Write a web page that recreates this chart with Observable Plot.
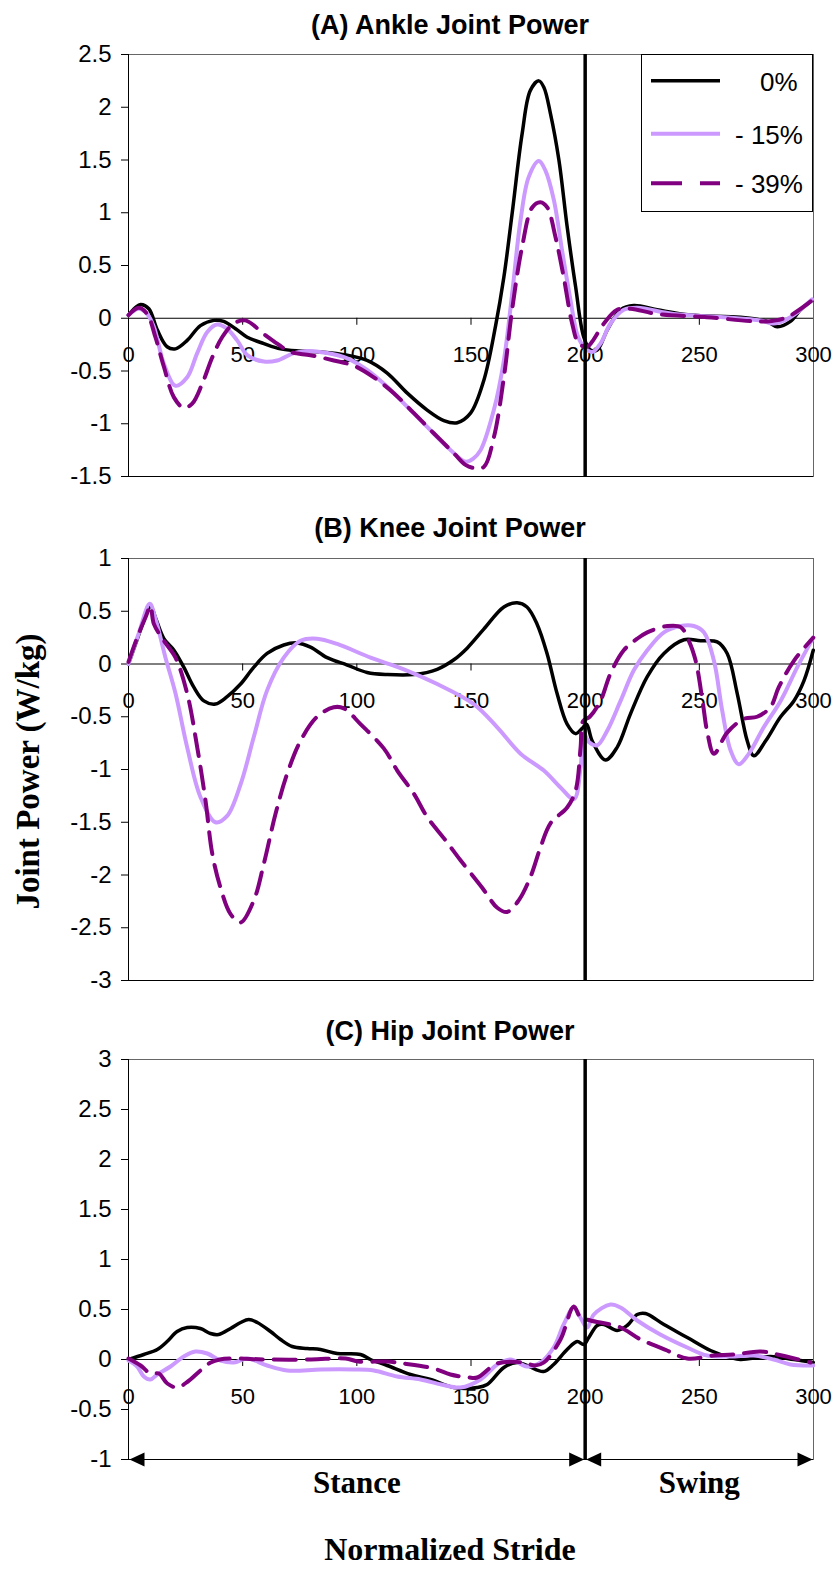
<!DOCTYPE html>
<html><head><meta charset="utf-8">
<script src="https://cdn.jsdelivr.net/npm/d3@7"></script>
<script src="https://cdn.jsdelivr.net/npm/@observablehq/plot@0.6"></script>
<style>html,body{margin:0;padding:0;background:#fff;} #chart svg{display:block;}</style>
</head><body><div id="chart"></div>
<script>
// ---------------- DATA ----------------
const seriesNames = ["0%", "- 15%", "- 39%"];
const xTicks = [0, 50, 100, 150, 200, 250, 300];
const stanceSwingBoundary = [200];
const phaseNames = ["Stance", "Swing"];
const phaseMid = [100, 250];
const leftHeads = [0, 200];
const rightHeads = [200, 300];

const ankleTicks = [-1.5, -1, -0.5, 0, 0.5, 1, 1.5, 2, 2.5];
const kneeTicks = [-3, -2.5, -2, -1.5, -1, -0.5, 0, 0.5, 1];
const hipTicks = [-1, -0.5, 0, 0.5, 1, 1.5, 2, 2.5, 3];

const ankle0 = [[0,0.03],[3,0.10],[5.3,0.13],[8.9,0.09],[12.6,-0.11],[16.9,-0.27],[20.6,-0.29],[25.7,-0.21],[31.5,-0.07],[37.4,-0.02],[41.7,-0.03],[46.9,-0.10],[52,-0.18],[59.3,-0.24],[66.6,-0.29],[75.3,-0.31],[84.1,-0.32],[95.8,-0.35],[104.5,-0.40],[113.3,-0.52],[122.1,-0.71],[130.8,-0.87],[138.1,-0.97],[144,-0.99],[149.8,-0.90],[155.6,-0.59],[160.7,-0.08],[164.4,0.39],[168,0.99],[172.4,1.75],[176,2.16],[179.7,2.25],[181.9,2.19],[184.8,1.94],[188.5,1.50],[192.1,0.87],[195.8,0.30],[199.4,-0.18],[202.3,-0.30],[205.3,-0.30],[209.7,-0.11],[215.5,0.08],[221.3,0.12],[231.5,0.08],[246.1,0.03],[268,0.01],[279.7,-0.03],[284.1,-0.08],[289.9,-0.03],[294.3,0.08],[299.4,0.17]];
const ankle15 = [[0,0.03],[4.5,0.09],[8.2,0.04],[11.1,-0.08],[15.5,-0.43],[20.6,-0.64],[25.7,-0.56],[30.1,-0.33],[34.5,-0.13],[38.8,-0.06],[43.2,-0.10],[47.6,-0.21],[52,-0.35],[59.3,-0.41],[65.1,-0.40],[72.4,-0.33],[78.3,-0.31],[87,-0.33],[95.8,-0.38],[104.5,-0.49],[113.3,-0.65],[122.1,-0.84],[130.8,-1.03],[139.6,-1.22],[147.6,-1.36],[151,-1.33],[154.2,-1.25],[160,-0.87],[164.4,-0.40],[168,0.23],[171.7,0.93],[175.3,1.34],[179.7,1.49],[182.6,1.40],[186.3,1.12],[189.9,0.64],[193.6,0.17],[196.5,-0.15],[199.4,-0.27],[203.1,-0.32],[206.7,-0.24],[211.1,-0.05],[216.9,0.08],[222.8,0.10],[238.8,0.04],[260.7,0.01],[276.8,-0.02],[282.6,-0.05],[289.9,0.01],[299.4,0.18]];
const ankle39 = [[0,0.03],[4.5,0.10],[8.2,0.04],[11.8,-0.18],[15.5,-0.46],[19.9,-0.75],[24.2,-0.85],[27.9,-0.81],[32.3,-0.62],[36.7,-0.37],[41,-0.18],[46.1,-0.05],[51.2,-0.02],[59.3,-0.15],[65.1,-0.24],[71,-0.32],[79.7,-0.35],[89.9,-0.40],[98.7,-0.45],[107.4,-0.56],[116.2,-0.71],[125,-0.90],[133.7,-1.09],[142.5,-1.28],[147.6,-1.39],[151.5,-1.42],[155.6,-1.41],[160,-1.13],[164.4,-0.56],[168,0.08],[172.4,0.68],[176.8,1.05],[180.4,1.10],[183.4,1.05],[187,0.77],[190.6,0.39],[194.3,-0.05],[197.2,-0.24],[200.9,-0.27],[203.1,-0.22],[208.2,-0.05],[214,0.08],[219.9,0.09],[231.5,0.04],[253.4,0.01],[279.7,-0.03],[288.4,0.01],[299.4,0.17]];

const knee0 = [[0,0],[3.1,0.19],[6.7,0.41],[9.6,0.55],[11.8,0.44],[15.5,0.24],[19.9,0.13],[24.2,-0.03],[28.6,-0.22],[33,-0.35],[38.1,-0.38],[43.2,-0.31],[49.1,-0.19],[54.9,-0.03],[60.7,0.10],[68,0.18],[73.9,0.20],[79.7,0.16],[87,0.06],[95.8,-0.01],[104.5,-0.08],[113.3,-0.10],[125,-0.10],[135.2,-0.05],[142.5,0.04],[148.3,0.15],[155.6,0.33],[164.4,0.54],[170.2,0.58],[174.5,0.54],[178.9,0.38],[183.3,0.10],[187.7,-0.28],[192.1,-0.57],[195.8,-0.66],[198.7,-0.61],[200.6,-0.57],[203.1,-0.73],[208.9,-0.91],[214,-0.79],[219.9,-0.47],[227.2,-0.12],[234.5,0.10],[243.3,0.23],[250.5,0.22],[257.8,0.21],[262.2,0.10],[266.6,-0.28],[271,-0.73],[273.9,-0.87],[279,-0.73],[285.6,-0.50],[291.4,-0.35],[295.8,-0.16],[299.9,0.13]];
const knee15 = [[0,0],[4.5,0.29],[9.3,0.57],[11.8,0.43],[16.2,0.06],[20.6,-0.28],[25.7,-0.79],[31.5,-1.26],[38.1,-1.50],[43.2,-1.44],[49.1,-1.14],[54.9,-0.69],[60.7,-0.25],[68,0.06],[75.3,0.22],[82.6,0.24],[91.4,0.19],[106,0.06],[120.6,-0.05],[135.2,-0.19],[151.2,-0.38],[161.5,-0.60],[171.7,-0.85],[181.9,-1.01],[189.2,-1.17],[195.1,-1.28],[198,-0.98],[199.4,-0.66],[201.6,-0.74],[205.3,-0.77],[209.7,-0.63],[215.5,-0.35],[221.3,-0.06],[227.2,0.13],[234.5,0.30],[241.8,0.36],[247.6,0.36],[252,0.30],[256.4,0.03],[260,-0.44],[263.7,-0.82],[267.3,-0.95],[271.7,-0.85],[278.2,-0.60],[285.6,-0.35],[292.9,-0.03],[299.9,0.25]];
const knee39 = [[0,0.02],[3.8,0.25],[7.6,0.45],[9.6,0.55],[11.1,0.38],[15.5,0.22],[20.6,0.06],[25.7,-0.28],[30.1,-0.79],[33.7,-1.29],[36.7,-1.80],[40.3,-2.12],[44.7,-2.37],[49.1,-2.45],[54.9,-2.24],[59.3,-1.89],[64.4,-1.42],[69.5,-1.04],[75.3,-0.73],[82.6,-0.50],[89.9,-0.41],[94.3,-0.42],[101.6,-0.57],[111.8,-0.80],[117.7,-1.01],[125,-1.23],[130.8,-1.45],[138.8,-1.67],[145.4,-1.86],[154.9,-2.12],[161.5,-2.31],[165.8,-2.35],[170.9,-2.24],[176,-2.02],[180.4,-1.74],[184.8,-1.51],[192.1,-1.36],[195.8,-1.20],[198,-0.79],[199.1,-0.54],[202,-0.50],[206.7,-0.35],[211.1,-0.09],[216.9,0.13],[222.8,0.24],[227.2,0.30],[236,0.36],[241.8,0.35],[245.4,0.22],[248.4,0.03],[251.4,-0.35],[253.6,-0.66],[256.4,-0.85],[262.2,-0.65],[269.5,-0.52],[275.3,-0.50],[281.1,-0.41],[284.8,-0.22],[291.4,0.03],[299.9,0.25]];

const hip0 = [[0,0],[6.7,0.05],[12.6,0.10],[16.9,0.18],[21.3,0.28],[25.7,0.32],[31.5,0.31],[35.9,0.26],[39.5,0.25],[44.7,0.31],[49.1,0.37],[52.7,0.40],[56.4,0.37],[62.2,0.28],[66.6,0.20],[71.7,0.13],[78.3,0.11],[84.1,0.10],[91.4,0.06],[101.6,0.05],[106,0],[113.3,-0.06],[123.5,-0.15],[132.3,-0.20],[142.5,-0.28],[152.7,-0.28],[157.1,-0.25],[164.4,-0.08],[170.2,-0.03],[174.5,-0.06],[181.8,-0.12],[186.2,-0.05],[192.1,0.10],[196.5,0.18],[199.4,0.15],[201.6,0.22],[205.3,0.34],[208.2,0.35],[214,0.29],[218.4,0.34],[222.8,0.45],[226.4,0.46],[234.5,0.35],[244.7,0.22],[254.9,0.09],[263.7,0.02],[268,0],[281.1,0.03],[291.4,0],[299.9,-0.03]];
const hip15 = [[0,-0.01],[3.8,-0.07],[6.7,-0.17],[9.6,-0.20],[12.6,-0.15],[18.4,-0.07],[24.2,0.03],[29.3,0.08],[34.5,0.06],[40.3,-0.01],[46.1,-0.03],[52,0.01],[60.7,-0.06],[69.5,-0.11],[84.1,-0.10],[98.7,-0.10],[107.4,-0.11],[117.7,-0.17],[127.9,-0.20],[137,-0.25],[145.4,-0.28],[154.2,-0.20],[161.5,-0.05],[167.3,0],[174.5,-0.07],[180.4,-0.03],[186.2,0.12],[190.6,0.35],[195,0.52],[197.9,0.42],[200.9,0.32],[203.8,0.45],[211.1,0.55],[215.5,0.52],[222.8,0.39],[232.9,0.25],[244.7,0.12],[253.4,0.04],[263.7,0.03],[273.9,0.04],[282.6,0],[289.9,-0.05],[299.9,-0.06]];
const hip39 = [[0,0.01],[5.3,-0.06],[9.6,-0.14],[13.3,-0.14],[17,-0.24],[21.3,-0.28],[26,-0.22],[31.5,-0.11],[36,-0.03],[40,0],[46,0.01],[60,0],[80,0],[95,0.01],[100.7,-0.02],[113.3,-0.02],[120.6,-0.04],[133.7,-0.09],[141,-0.15],[149,-0.18],[152.7,-0.18],[161.5,-0.04],[173.1,-0.03],[178,-0.06],[181.9,-0.03],[189.2,0.20],[195,0.53],[198,0.42],[202.3,0.39],[215.5,0.32],[223.5,0.21],[235.9,0.09],[244.7,0.01],[256.4,0.04],[265.1,0.05],[276.8,0.08],[284.1,0.05],[298.7,-0.03]];

// ---------------- STYLE ----------------
const SANS = "'Liberation Sans', Arial, sans-serif";
const SERIF = "'Liberation Serif', 'Times New Roman', serif";
const styles = [
  {stroke: "#000000", strokeWidth: 3.5},
  {stroke: "#CC99FF", strokeWidth: 4},
  {stroke: "#800080", strokeWidth: 4, strokeDasharray: "22,11"}
];

function panel({title, series, yDomain, yTicks, height, marginTop, marginBottom, titleDy, extra = []}) {
  const lineMarks = series.map((arr, k) =>
    Plot.line(arr, {x: d => d[0], y: d => d[1], curve: "catmull-rom", strokeLinejoin: "round", ...styles[k]})
  );
  return Plot.plot({
    width: 838, height, marginLeft: 128, marginRight: 25, marginTop, marginBottom,
    style: {fontFamily: SANS, fontSize: "24px", background: "white", color: "black", overflow: "visible"},
    x: {domain: [0, 300], axis: null},
    y: {domain: yDomain},
    marks: [
      Plot.frame({stroke: "#666", strokeWidth: 1}),
      Plot.ruleX([0], {stroke: "black"}),
      Plot.ruleY([yDomain[0]], {stroke: "black"}),
      Plot.axisY(yTicks, {tickSize: 7, tickPadding: 10, tickFormat: d => String(d), label: null, fontSize: 24}),
      Plot.ruleY([0], {stroke: "black", strokeWidth: 1}),
      Plot.ruleX(xTicks.slice(1, -1), {x: d => d, y1: 0, y2: 0, insetBottom: -7, stroke: "black"}),
      Plot.text(xTicks, {x: d => d, y: 0, text: d => String(d), dy: 37, fontSize: 22}),
      ...lineMarks,
      Plot.ruleX(stanceSwingBoundary, {stroke: "black", strokeWidth: 3.5}),
      Plot.text([title], {frameAnchor: "top", dx: -21, dy: titleDy, lineAnchor: "bottom", fontWeight: "bold", fontSize: 27}),
      ...extra
    ]
  });
}

const chart = document.getElementById("chart");

// Panel A
const svgA = panel({title: "(A) Ankle Joint Power", series: [ankle0, ankle15, ankle39],
  yDomain: [-1.5, 2.5], yTicks: ankleTicks, height: 500, marginTop: 54, marginBottom: 24, titleDy: -21});
chart.appendChild(svgA);

// Legend (panel A, top-right)
{
  const g = d3.select(svgA).append("g").attr("font-family", SANS).attr("font-size", 26).attr("text-anchor", "start");
  g.append("rect").attr("x", 641.5).attr("y", 54.5).attr("width", 171).attr("height", 157)
    .attr("fill", "white").attr("stroke", "black").attr("stroke-width", 1);
  const rowsY = [80.7, 133.7, 183.3];
  const textX = [760, 735, 735];
  seriesNames.forEach((name, k) => {
    g.append("line").attr("x1", 651).attr("x2", 720).attr("y1", rowsY[k]).attr("y2", rowsY[k])
      .attr("stroke", styles[k].stroke).attr("stroke-width", k === 0 ? 3.5 : 4)
      .attr("stroke-dasharray", k === 2 ? "31,18" : null);
    g.append("text").attr("x", textX[k]).attr("y", rowsY[k] + 10).attr("text-anchor", "start")
      .attr("fill", "black").style("white-space", "pre").text(name);
  });
}

// Panel B
const svgB = panel({title: "(B) Knee Joint Power", series: [knee0, knee15, knee39],
  yDomain: [-3, 1], yTicks: kneeTicks, height: 520, marginTop: 58, marginBottom: 40, titleDy: -22,
  extra: [Plot.text(["Joint Power (W/kg)"], {frameAnchor: "left", dx: -100, dy: 2, rotate: -90,
    fontFamily: SERIF, fontWeight: "bold", fontSize: 33, lineAnchor: "middle", textAnchor: "middle"})]});
chart.appendChild(svgB);

// Panel C with stance/swing arrows
const headLeft = {draw(ctx) { ctx.moveTo(0, 0); ctx.lineTo(15, -7); ctx.lineTo(15, 7); ctx.closePath(); }};
const headRight = {draw(ctx) { ctx.moveTo(0, 0); ctx.lineTo(-15, -7); ctx.lineTo(-15, 7); ctx.closePath(); }};
const svgC = panel({title: "(C) Hip Joint Power", series: [hip0, hip15, hip39],
  yDomain: [-1, 3], yTicks: hipTicks, height: 551, marginTop: 39, marginBottom: 112, titleDy: -20,
  extra: [
    Plot.dot(leftHeads, {x: d => d, y: -1, symbol: headLeft, fill: "black", stroke: null, r: 6, dx: 1}),
    Plot.dot(rightHeads, {x: d => d, y: -1, symbol: headRight, fill: "black", stroke: null, r: 6, dx: -1}),
    Plot.text(phaseNames, {x: (d, i) => phaseMid[i], frameAnchor: "bottom", dy: 33, lineAnchor: "bottom",
      fontFamily: SERIF, fontWeight: "bold", fontSize: 31}),
    Plot.text(["Normalized Stride"], {frameAnchor: "bottom", dx: -21, dy: 100, lineAnchor: "bottom",
      fontFamily: SERIF, fontWeight: "bold", fontSize: 32})
  ]});
chart.appendChild(svgC);
</script>
</body></html>
